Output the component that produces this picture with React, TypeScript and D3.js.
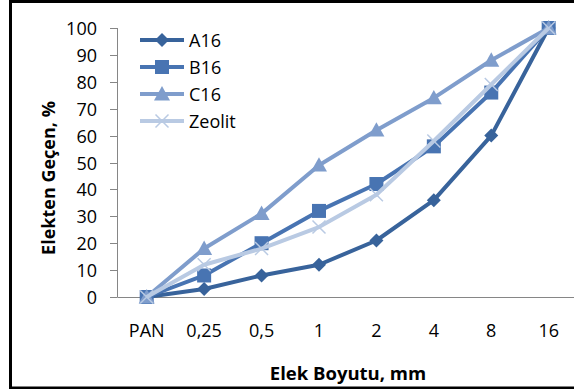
import React from "react";
import * as d3 from "d3";

const categories = ["PAN", "0,25", "0,5", "1", "2", "4", "8", "16"];
const seriesNames = ["A16", "B16", "C16", "Zeolit"];
const a16 = [0, 3, 8, 12, 21, 36, 60, 100];
const b16 = [0, 8, 20, 32, 42, 56, 76, 100];
const c16 = [0, 18, 31, 49, 62, 74, 88, 100];
const zeolit = [0, 12, 18, 26, 38, 58, 79, 100];
const yTicks = [0, 10, 20, 30, 40, 50, 60, 70, 80, 90, 100];

const colors = ["#38639b", "#4874b2", "#7f9dcc", "#b9cae3"];
const markers = ["diamond", "square", "triangle", "x"];

const FONT = "'Open Sans', 'DejaVu Sans', sans-serif";

function Marker({ type, x, y, color }: { type: string; x: number; y: number; color: string }) {
  if (type === "diamond") {
    const s = 7;
    return <path d={`M${x},${y - s}L${x + s},${y}L${x},${y + s}L${x - s},${y}Z`} fill={color} />;
  }
  if (type === "square") {
    const s = 7;
    return <rect x={x - s} y={y - s} width={2 * s} height={2 * s} fill={color} />;
  }
  if (type === "triangle") {
    const s = 8;
    return <path d={`M${x},${y - s}L${x + s},${y + s * 0.8}L${x - s},${y + s * 0.8}Z`} fill={color} />;
  }
  const s = 6.5;
  return (
    <path
      d={`M${x - s},${y - s}L${x + s},${y + s}M${x - s},${y + s}L${x + s},${y - s}`}
      stroke={color}
      strokeWidth={1.5}
      fill="none"
    />
  );
}

export default function App() {
  const width = 574;
  const height = 389;
  const data = [a16, b16, c16, zeolit];

  const x = d3.scaleBand<string>().domain(categories).range([118, 577.4]);
  const y = d3.scaleLinear().domain([0, 100]).range([297, 28]);
  const cx = (c: string) => (x(c) as number) + x.bandwidth() / 2;

  const line = d3
    .line<number>()
    .x((_, i) => cx(categories[i]))
    .y((v) => y(v));

  const legendX = 140;
  const legendY = [40, 67, 94, 121];

  return (
    <svg
      width={width}
      height={height}
      style={{ position: "absolute", left: 0, top: 0, background: "#fff" }}
    >
      <rect x={0} y={0} width={width} height={height} fill="#fff" />
      <rect x={10.5} y={1.5} width={600} height={386.5} fill="none" stroke="#000" strokeWidth={3} />

      {/* y axis */}
      <line x1={117.5} x2={117.5} y1={y(100)} y2={y(0)} stroke="#868686" strokeWidth={1} />
      {yTicks.map((t) => (
        <g key={t}>
          <line x1={110} x2={117.5} y1={Math.round(y(t)) + 0.5} y2={Math.round(y(t)) + 0.5} stroke="#868686" />
          <text
            x={97}
            y={y(t)}
            textAnchor="end"
            dominantBaseline="central"
            fontFamily={FONT}
            fontSize={18}
            fill="#000"
          >
            {t}
          </text>
        </g>
      ))}

      {/* x axis */}
      <line x1={117.5} x2={577} y1={297.5} y2={297.5} stroke="#868686" strokeWidth={1} />
      {categories.map((c) => (
        <text
          key={c}
          x={cx(c)}
          y={330}
          textAnchor="middle"
          dominantBaseline="central"
          fontFamily={FONT}
          fontSize={18}
          fill="#000"
        >
          {c}
        </text>
      ))}

      {/* series */}
      {data.map((vals, si) => (
        <g key={seriesNames[si]}>
          <path d={line(vals) || ""} fill="none" stroke={colors[si]} strokeWidth={4} strokeLinejoin="round" />
          {vals.map((v, i) => (
            <Marker key={i} type={markers[si]} x={cx(categories[i])} y={y(v)} color={colors[si]} />
          ))}
        </g>
      ))}

      {/* legend */}
      {seriesNames.map((n, i) => (
        <g key={n}>
          <line x1={legendX} x2={legendX + 44} y1={legendY[i]} y2={legendY[i]} stroke={colors[i]} strokeWidth={4} />
          <Marker type={markers[i]} x={legendX + 22} y={legendY[i]} color={colors[i]} />
          <text
            x={legendX + 49}
            y={legendY[i]}
            dominantBaseline="central"
            fontFamily={FONT}
            fontSize={18}
            fill="#000"
          >
            {n}
          </text>
        </g>
      ))}

      {/* axis titles */}
      <text
        x={348}
        y={372}
        textAnchor="middle"
        dominantBaseline="central"
        fontFamily={FONT}
        fontWeight="bold"
        fontSize={18.5}
        fill="#000"
      >
        Elek Boyutu, mm
      </text>
      <text
        transform={`translate(48,178) rotate(-90)`}
        textAnchor="middle"
        dominantBaseline="central"
        fontFamily={FONT}
        fontWeight="bold"
        fontSize={18}
        fill="#000"
      >
        Elekten Geçen, %
      </text>
    </svg>
  );
}
